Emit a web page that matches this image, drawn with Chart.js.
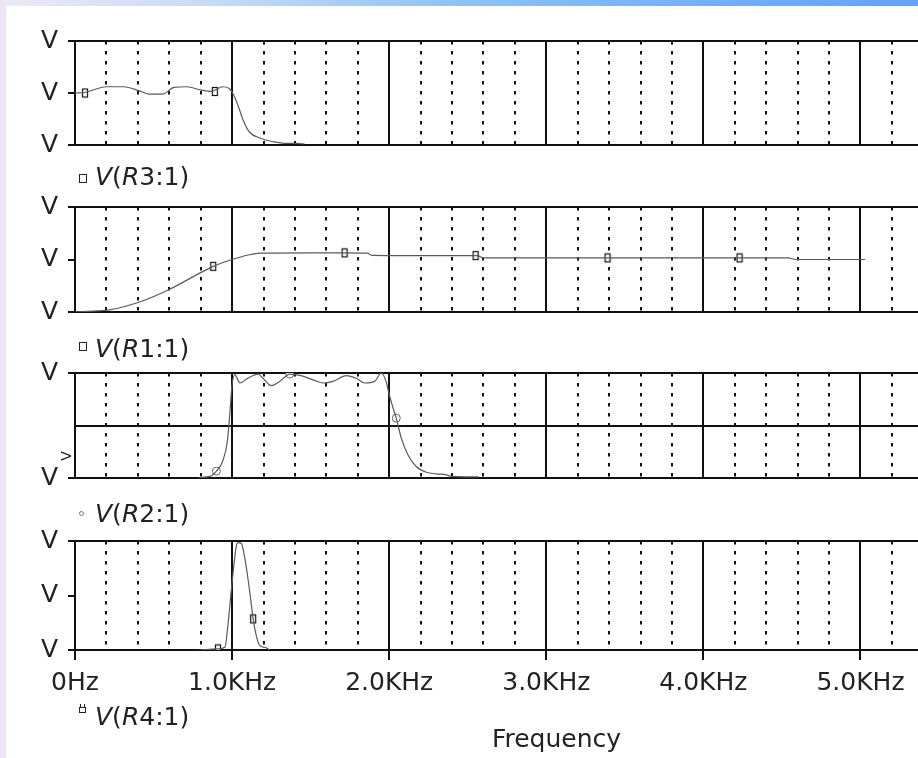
<!DOCTYPE html>
<html>
<head>
<meta charset="utf-8">
<script src="https://cdn.jsdelivr.net/npm/chart.js@4"></script>
<style>
  html, body { margin: 0; padding: 0; overflow: hidden; background: #fff; }
  #page { position: relative; width: 918px; height: 758px; overflow: hidden; background: #fff; }
  #topbar { position: absolute; left: 0; top: 0; width: 918px; height: 6px;
    background: linear-gradient(to right, #eee9f7 0%, #c2d9f5 25%, #8dc3f8 50%, #74b0fb 75%, #64a2fd 100%); }
  #leftbar { position: absolute; left: 0; top: 0; width: 6px; height: 758px; background: #ece5f4; }
  canvas { position: absolute; left: 0; }
  .legend { position: absolute; left: 95px; font-family: "DejaVu Sans"; font-size: 25px; line-height: 25px;
    color: #222; white-space: nowrap; }
  .legend i { font-style: italic; }
  .sym { position: absolute; box-sizing: border-box; }
  .box { width: 8px; height: 9px; border: 1.4px solid #222; }
  .dot { width: 5px; height: 5px; border: 1px solid #777; border-radius: 50%; }
  .fork { width: 7px; height: 6px; border: 1.3px solid #222; }
  .fork::before, .fork::after { content: ""; position: absolute; top: -4px; width: 1.3px; height: 3px; background: #222; }
  .fork::before { left: 0; }
  .fork::after { right: 0; }
</style>
</head>
<body>
<div id="page">
  <div id="topbar"></div>
  <div id="leftbar"></div>

  <canvas id="panelR3" width="1043" height="144" style="top:21px"></canvas>
  <canvas id="panelR1" width="1043" height="145" style="top:187px"></canvas>
  <canvas id="panelR2" width="1043" height="145" style="top:353px"></canvas>
  <canvas id="panelR4" width="1043" height="238" style="top:521px"></canvas>

  <span class="sym box" style="left:79px; top:174px"></span>
  <div class="legend" style="top:164px"><i>V</i>(<i>R</i>3:1)</div>
  <span class="sym box" style="left:79px; top:342px"></span>
  <div class="legend" style="top:336px"><i>V</i>(<i>R</i>1:1)</div>
  <span class="sym dot" style="left:79px; top:511px"></span>
  <div class="legend" style="top:501px"><i>V</i>(<i>R</i>2:1)</div>
  <span class="sym fork" style="left:79px; top:707px"></span>
  <div class="legend" style="top:704px"><i>V</i>(<i>R</i>4:1)</div>
</div>

<script>
// frequency in KHz, voltage in V (each panel runs 0..2 V)
const freqR3 = [0, 0.06, 0.2, 0.31, 0.41, 0.47, 0.56, 0.63, 0.71, 0.8, 0.87, 0.94, 0.98, 1.01, 1.04, 1.07, 1.11, 1.18, 1.26, 1.35, 1.41, 1.46];
const voltR3 = [1.0, 1.01, 1.12, 1.12, 1.04, 0.98, 0.98, 1.11, 1.12, 1.06, 1.03, 1.12, 1.09, 0.96, 0.74, 0.48, 0.25, 0.13, 0.065, 0.03, 0.03, 0.02];
const markFreqR3 = [0.064, 0.89];
const markVoltR3 = [1.0, 1.03];

const freqR1 = [0, 0.14, 0.22, 0.41, 0.6, 0.8, 0.88, 1.0, 1.11, 1.18, 1.5, 1.72, 1.86, 1.89, 2.2, 2.56, 2.6, 3.0, 3.5, 4.0, 4.54, 4.59, 5.03];
const voltR1 = [0, 0.02, 0.04, 0.19, 0.43, 0.75, 0.87, 1.0, 1.09, 1.12, 1.125, 1.125, 1.12, 1.08, 1.075, 1.074, 1.03, 1.03, 1.03, 1.03, 1.03, 1.0, 1.0];
const markFreqR1 = [0.88, 1.716, 2.55, 3.39, 4.23];
const markVoltR1 = [0.87, 1.125, 1.074, 1.03, 1.03];

const freqR2 = [0.79, 0.86, 0.9, 0.94, 0.97, 0.985, 1.0, 1.017, 1.05, 1.1, 1.166, 1.197, 1.25, 1.303, 1.367, 1.44, 1.515, 1.579, 1.642, 1.727, 1.79, 1.844, 1.907, 1.95, 1.98, 2.0, 2.024, 2.045, 2.077, 2.12, 2.172, 2.236, 2.3, 2.363, 2.4, 2.57];
const voltR2 = [0.01, 0.03, 0.13, 0.32, 0.7, 1.21, 1.78, 1.97, 1.81, 1.9, 1.98, 1.9, 1.76, 1.84, 1.98, 1.95, 1.87, 1.81, 1.84, 1.95, 1.9, 1.81, 1.84, 2.0, 1.84, 1.59, 1.34, 1.14, 0.76, 0.44, 0.22, 0.11, 0.08, 0.06, 0.03, 0.02];
const markFreqR2 = [0.9, 1.367, 2.045];
const markVoltR2 = [0.13, 1.98, 1.14];

const freqR4 = [0.79, 0.91, 0.954, 0.975, 0.996, 1.017, 1.028, 1.038, 1.06, 1.08, 1.1, 1.123, 1.134, 1.155, 1.176, 1.208, 1.24];
const voltR4 = [0, 0.02, 0.05, 0.5, 1.13, 1.7, 1.93, 1.97, 1.95, 1.7, 1.33, 0.82, 0.57, 0.25, 0.08, 0.05, 0.0];
const markFreqR4 = [0.91, 1.134];
const markVoltR4 = [0.02, 0.57];

const freqTickLabels = ["0Hz", "1.0KHz", "2.0KHz", "3.0KHz", "4.0KHz", "5.0KHz", "6.0KHz"];

const ink = "#111";
const textColor = "#222";
const labelFont = { family: "DejaVu Sans", size: 25 };
const freqMax = 6.13;

function toPoints(xs, ys) {
  return xs.map((x, i) => ({ x: x, y: ys[i] }));
}

// small hollow box used as the trace marker
function boxMarker() {
  const c = document.createElement("canvas");
  c.width = 8;
  c.height = 11;
  const g = c.getContext("2d");
  g.fillStyle = "#fff";
  g.fillRect(1, 1, 6, 9);
  g.strokeStyle = "#111";
  g.lineWidth = 1.2;
  g.strokeRect(1.5, 1.5, 5, 8);
  return c;
}

// sideways "V" under the middle rule of the R2 panel
const sideMark = {
  id: "sideMark",
  afterDraw(chart) {
    const { ctx, chartArea } = chart;
    ctx.save();
    ctx.translate(chartArea.left - 8, chartArea.bottom - 22);
    ctx.rotate(-Math.PI / 2);
    ctx.font = '14px "DejaVu Sans"';
    ctx.textAlign = "center";
    ctx.textBaseline = "middle";
    ctx.fillStyle = textColor;
    ctx.fillText("V", 0, 0);
    ctx.restore();
  },
};

function panelChart(id, trace, marks, marker, cfg) {
  const withAxis = !!cfg.bottomAxis;
  const midRule = !!cfg.midRule;
  return new Chart(document.getElementById(id), {
    type: "line",
    data: {
      datasets: [
        {
          data: trace,
          borderColor: "#5a5a5a",
          borderWidth: 1.2,
          pointRadius: 0,
          cubicInterpolationMode: "monotone",
        },
        {
          data: marks,
          showLine: false,
          pointStyle: marker,
          pointRadius: 4,
          borderColor: "#666",
          borderWidth: 1,
          backgroundColor: "#fff",
        },
      ],
    },
    options: {
      responsive: false,
      animation: false,
      events: [],
      layout: { padding: { top: 20, bottom: withAxis ? 0 : 20, left: 0, right: 4 } },
      plugins: { legend: { display: false }, tooltip: { enabled: false } },
      scales: {
        x: {
          type: "linear",
          min: 0,
          max: freqMax,
          afterFit: (s) => { s.paddingLeft = 0; s.paddingRight = 0; },
          border: { color: ink, width: 2 },
          grid: { color: ink, lineWidth: 2, drawTicks: withAxis, tickLength: 10, tickWidth: 2, tickColor: ink },
          ticks: {
            display: withAxis,
            stepSize: 1,
            includeBounds: false,
            autoSkip: false,
            maxRotation: 0,
            padding: 8,
            font: labelFont,
            color: textColor,
            callback: (v) => (Number.isInteger(v) ? freqTickLabels[v] : ""),
          },
          title: {
            display: withAxis,
            text: "Frequency",
            font: labelFont,
            color: textColor,
            padding: { top: 30, bottom: 4 },
          },
        },
        xMinor: {
          type: "linear",
          position: "bottom",
          min: 0,
          max: freqMax,
          afterFit: (s) => { s.paddingLeft = 0; s.paddingRight = 0; },
          border: { display: false, dash: [3.5, 6.5] },
          grid: { color: ink, lineWidth: 2, drawTicks: false },
          ticks: { display: false, stepSize: 0.2, includeBounds: false },
        },
        y: {
          min: 0,
          max: 2,
          afterFit: (s) => { s.width = 75; s.paddingTop = 0; s.paddingBottom = 0; },
          border: { color: ink, width: 2 },
          grid: {
            color: (c) => (c.tick.value === 1 && !midRule ? "rgba(0,0,0,0)" : ink),
            lineWidth: 2,
            tickLength: 7,
            tickWidth: 2,
            tickColor: (c) => (c.tick.value === 1 && midRule ? "rgba(0,0,0,0)" : ink),
          },
          ticks: {
            stepSize: 1,
            padding: 10,
            font: labelFont,
            color: textColor,
            callback: (v) => (v === 1 && midRule ? "" : "V"),
          },
        },
      },
    },
    plugins: cfg.plugins || [],
  });
}

const boxMark = boxMarker();

panelChart("panelR3", toPoints(freqR3, voltR3), toPoints(markFreqR3, markVoltR3), boxMark, {});
panelChart("panelR1", toPoints(freqR1, voltR1), toPoints(markFreqR1, markVoltR1), boxMark, {});
panelChart("panelR2", toPoints(freqR2, voltR2), toPoints(markFreqR2, markVoltR2), "circle", { midRule: true, plugins: [sideMark] });
panelChart("panelR4", toPoints(freqR4, voltR4), toPoints(markFreqR4, markVoltR4), boxMark, { bottomAxis: true });
</script>
</body>
</html>
